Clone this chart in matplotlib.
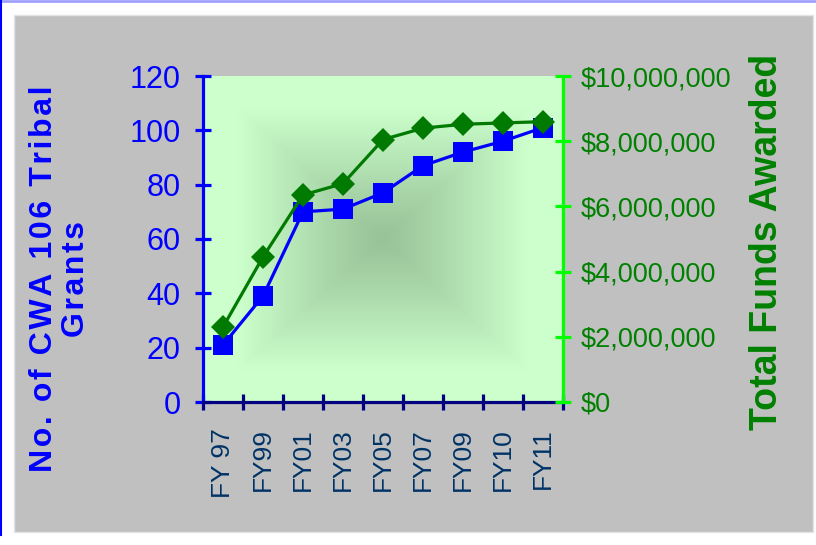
import matplotlib
matplotlib.use('Agg')
import matplotlib.pyplot as plt
import matplotlib.patches as patches
import matplotlib.ticker as mticker
import numpy as np

# chart data
years = ['FY 97', 'FY99', 'FY01', 'FY03', 'FY05', 'FY07', 'FY09', 'FY10', 'FY11']
grants = [21, 39, 70, 71, 77, 87, 92, 96, 101]
funds = [2300000, 4450000, 6350000, 6700000, 8050000, 8400000, 8520000, 8560000, 8600000]
grantTicks = [0, 20, 40, 60, 80, 100, 120]
fundTicks = [0, 2000000, 4000000, 6000000, 8000000, 10000000]

plain = ['Liberation Sans', 'DejaVu Sans']


def spaced(s):
    # fake letter spacing with hair spaces
    return '\u200a'.join(s)


fig = plt.figure(figsize=(8.16, 5.45), dpi=100, facecolor='white')

# grey chart area and the thin page lines
fig.patches.append(patches.Rectangle((14 / 816, 1 - 532 / 545), 799 / 816, 517 / 545,
                                     transform=fig.transFigure, facecolor='#C0C0C0',
                                     edgecolor='#E4E4E4', lw=1, zorder=-10))
fig.lines.append(plt.Line2D([0, 1], [0.999, 0.999], transform=fig.transFigure,
                            color='#A0A0FF', lw=2, zorder=-10))
fig.lines.append(plt.Line2D([0.001, 0.001], [1 - 535 / 545, 1], transform=fig.transFigure,
                            color='#0000FF', lw=1.5, zorder=-10))

ax = fig.add_axes([203 / 816, 1 - 402 / 545, 360 / 816, 326 / 545])
ax.set_zorder(1)
ax.set_facecolor('none')
n = len(years)
ax.set_xlim(-0.5, n - 0.5)
ax.set_ylim(0, 120)

# green "from center" gradient
gx = np.linspace(-1, 1, 300)
GX, GY = np.meshgrid(gx, gx)
t = np.maximum(np.abs(GX), np.abs(GY))
s = np.clip(t / 0.8, 0, 1) ** 1.1
edge = np.array([204, 255, 204]) / 255
center = np.array([152, 194, 152]) / 255
img = center + (edge - center) * s[..., None]
ax.imshow(img, extent=[-0.5, n - 0.5, 0, 120], aspect='auto', zorder=0,
          interpolation='bilinear')

xs = np.arange(n)
ax.plot(xs, grants, color='#0000FF', lw=2.3, marker='s', markersize=14,
        markeredgewidth=0, zorder=3)

ax2 = ax.twinx()
ax2.set_zorder(2)
ax2.set_ylim(0, 10000000)
ax2.plot(xs, funds, color='#007A00', lw=2.3, marker='D', markersize=12,
         markeredgewidth=0, zorder=3)

for sp in ['top', 'right']:
    ax.spines[sp].set_visible(False)
for sp in ['top', 'left', 'bottom']:
    ax2.spines[sp].set_visible(False)
ax.spines['left'].set_color('#0000FF')
ax.spines['left'].set_linewidth(2.3)
ax.spines['bottom'].set_color('#000080')
ax.spines['bottom'].set_linewidth(2.3)
ax2.spines['right'].set_color('#00FF00')
ax2.spines['right'].set_linewidth(2.3)

ax.set_yticks(grantTicks)
ax.tick_params(axis='y', direction='inout', length=12, width=2.3, color='#0000FF',
               labelcolor='#0000FF', labelsize=22, pad=10)
for lab in ax.get_yticklabels():
    lab.set_family(plain)

ax.set_xticks(np.arange(n + 1) - 0.5)
ax.set_xticklabels([])
ax.set_xticks(xs, minor=True)
ax.set_xticklabels(years, minor=True, rotation=90)
ax.tick_params(axis='x', which='major', direction='inout', length=12, width=2.3,
               color='#000080')
ax.tick_params(axis='x', which='minor', length=0, labelcolor='#003366',
               labelsize=19, pad=19)
for lab in ax.get_xticklabels(minor=True):
    lab.set_family(plain)

ax2.set_yticks(fundTicks)
ax2.yaxis.set_major_formatter(mticker.FuncFormatter(lambda v, p: '$' + format(int(v), ',')))
ax2.tick_params(axis='y', direction='inout', length=12, width=2.3, color='#00FF00',
                labelcolor='#008000', labelsize=19.5, pad=7)
for lab in ax2.get_yticklabels():
    lab.set_family(plain)

fig.text(60 / 816, 1 - 279 / 545, spaced('No. of CWA 106 Tribal') + '\n' + spaced('Grants'),
         rotation=90, ha='center', va='center', multialignment='center',
         color='#0000FF', fontsize=23, fontweight='bold', family=plain, linespacing=1.1)
fig.text(767 / 816, 1 - 242 / 545, 'Total Funds Awarded', rotation=90,
         ha='center', va='center', color='#008000', fontsize=27, fontweight='bold',
         family=plain)

fig.savefig('out.png', dpi=100, facecolor='white')
